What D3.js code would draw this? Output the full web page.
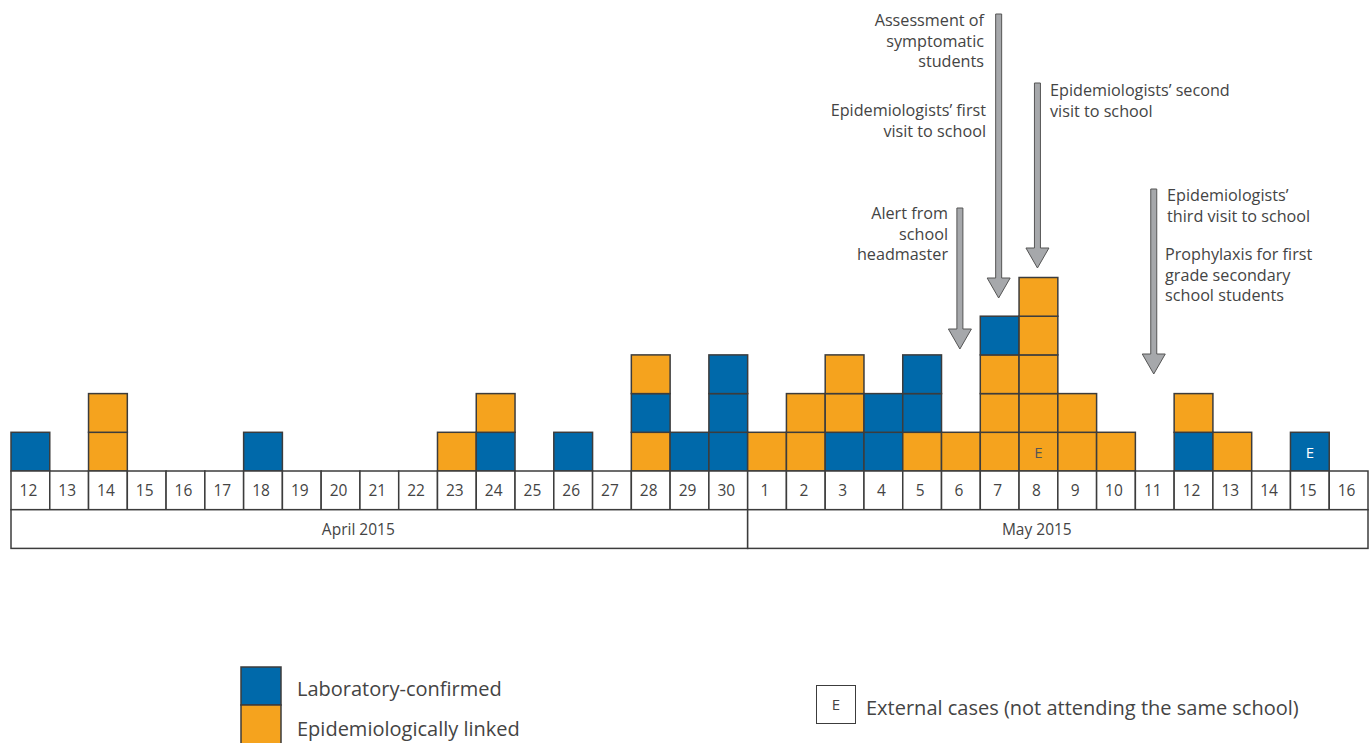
<!DOCTYPE html>
<html><head><meta charset="utf-8">
<script src="https://cdn.jsdelivr.net/npm/d3@7"></script>
<style>
html,body{margin:0;padding:0;background:#fff;}
svg{display:block;font-family:"Open Sans","Noto Sans",sans-serif;}
</style></head>
<body><svg id="chart" width="1370" height="743"></svg>
<script>
// ---- data ----
const monthNames = ["April 2015", "May 2015"];
const monthDays = [
  ["12","13","14","15","16","17","18","19","20","21","22","23","24","25","26","27","28","29","30"],
  ["1","2","3","4","5","6","7","8","9","10","11","12","13","14","15","16"]
];
// stacked cases per day, bottom to top: L = laboratory-confirmed, E = epidemiologically linked
const caseStacks = [
  "L","","EE","","","","L","","","","","E","LE","","L","","ELE","L","LLL",
  "E","EE","LEE","LL","ELL","E","EEEL","EEEEE","EE","E","","LE","E","","L",""
];
// external cases: [day index, stack level]
const externalCases = [[26,0],[33,0]];
const categoryNames = {L:"Laboratory-confirmed", E:"Epidemiologically linked"};
const externalLabel = "External cases (not attending the same school)";
const annotations = [
  {day:24, lines:["Alert from","school","headmaster"], side:"left"},
  {day:25, lines:["Assessment of","symptomatic","students"], side:"left"},
  {day:25, lines:["Epidemiologists\u2019 first","visit to school"], side:"left"},
  {day:26, lines:["Epidemiologists\u2019 second","visit to school"], side:"right"},
  {day:29, lines:["Epidemiologists\u2019","third visit to school"], side:"right"},
  {day:29, lines:["Prophylaxis for first","grade secondary","school students"], side:"right"}
];

// ---- layout ----
const colors = {L:"#0069aa", E:"#f5a31e"};
const stroke = "#3c3c3c";
const textColor = "#444";
const svg = d3.select("#chart");

const keys = d3.range(caseStacks.length);
const dayLabels = monthDays.flat();
const x = d3.scaleBand().domain(keys).range([11, 1368]).padding(0);
const y = d3.scaleLinear().domain([0, 5]).range([471, 277.5]);
const cellH = y(0) - y(1);

// bars
const cells = [];
caseStacks.forEach((s, i) => s.split("").forEach((c, lvl) => cells.push({i, lvl, c})));
svg.append("g").selectAll("rect").data(cells).join("rect")
  .attr("x", d => x(d.i)).attr("y", d => y(d.lvl + 1))
  .attr("width", x.bandwidth()).attr("height", cellH)
  .attr("fill", d => colors[d.c]).attr("stroke", stroke).attr("stroke-width", 1.5);

// external markers
svg.append("g").selectAll("text").data(externalCases).join("text")
  .attr("x", d => x(d[0]) + x.bandwidth()/2).attr("y", d => y(d[1] + 0.5) + 6)
  .attr("text-anchor", "middle").attr("font-size", 15)
  .attr("fill", d => caseStacks[d[0]][d[1]] === "L" ? "#fff" : "#555")
  .text("E");

// date row
const dateRow = svg.append("g");
dateRow.selectAll("rect").data(keys).join("rect")
  .attr("x", d => x(d)).attr("y", y(0)).attr("width", x.bandwidth()).attr("height", cellH)
  .attr("fill", "#fff").attr("stroke", stroke).attr("stroke-width", 1.5);
dateRow.selectAll("text").data(keys).join("text")
  .attr("x", d => x(d) + x.bandwidth()/2 - 2).attr("y", y(0) + cellH/2 + 5.5)
  .attr("text-anchor", "middle").attr("font-size", 15.5).attr("fill", textColor)
  .text(d => dayLabels[d]);

// month row
let start = 0;
const monthSpans = monthNames.map((m, k) => {
  const s = {name:m, first:start, last:start + monthDays[k].length - 1};
  start += monthDays[k].length; return s;
});
const monthRow = svg.append("g");
monthRow.selectAll("rect").data(monthSpans).join("rect")
  .attr("x", d => x(d.first)).attr("y", y(0) + cellH)
  .attr("width", d => x(d.last) + x.bandwidth() - x(d.first)).attr("height", cellH)
  .attr("fill", "#fff").attr("stroke", stroke).attr("stroke-width", 1.5);
monthRow.selectAll("text").data(monthSpans).join("text")
  .attr("x", d => (x(d.first) + x(d.last) + x.bandwidth())/2 - 21)
  .attr("y", y(0) + cellH*1.5 + 5.5)
  .attr("text-anchor", "middle").attr("font-size", 15.5).attr("fill", textColor)
  .text(d => d.name);

// arrows
const arrowSpec = [
  {day:24, top:208, tip:349},
  {day:25, top:14, tip:298},
  {day:26, top:83, tip:268},
  {day:29, top:189, tip:374}
];
const sw = 3, hw = 11.5, hl = 20;
svg.append("g").selectAll("path").data(arrowSpec).join("path")
  .attr("d", a => {
    const cx = x(a.day) + x.bandwidth()/2 - 1;
    return `M${cx-sw},${a.top}L${cx+sw},${a.top}L${cx+sw},${a.tip-hl}L${cx+hw},${a.tip-hl}L${cx},${a.tip}L${cx-hw},${a.tip-hl}L${cx-sw},${a.tip-hl}Z`;
  })
  .attr("fill", "#a6a8ab").attr("stroke", "#555").attr("stroke-width", 1);

// annotation texts
const annLayout = [
  {x:948, y:219}, {x:984, y:26}, {x:986, y:116}, {x:1050, y:96}, {x:1167, y:201}, {x:1165, y:260}
];
annotations.forEach((a, k) => {
  const L = annLayout[k];
  const t = svg.append("text").attr("font-size", 16.2).attr("fill", textColor)
    .attr("text-anchor", a.side === "left" ? "end" : "start");
  a.lines.forEach((ln, j) => t.append("tspan").attr("x", L.x).attr("y", L.y + j*20.7).text(ln));
});

// legend
const lg = svg.append("g");
lg.append("rect").attr("x", 241).attr("y", 667).attr("width", 40).attr("height", 38)
  .attr("fill", colors.L).attr("stroke", stroke).attr("stroke-width", 1.5);
lg.append("rect").attr("x", 241).attr("y", 705).attr("width", 40).attr("height", 40)
  .attr("fill", colors.E).attr("stroke", stroke).attr("stroke-width", 1.5);
lg.append("text").attr("x", 297).attr("y", 696).attr("font-size", 20).attr("fill", textColor).text(categoryNames.L);
lg.append("text").attr("x", 297).attr("y", 736).attr("font-size", 20).attr("fill", textColor).text(categoryNames.E);
lg.append("rect").attr("x", 816.5).attr("y", 685.5).attr("width", 39).attr("height", 38)
  .attr("fill", "#fff").attr("stroke", stroke).attr("stroke-width", 1);
lg.append("text").attr("x", 836).attr("y", 710).attr("text-anchor", "middle").attr("font-size", 15).attr("fill", textColor).text("E");
lg.append("text").attr("x", 866).attr("y", 715).attr("font-size", 20).attr("fill", textColor).text(externalLabel);
</script></body></html>
